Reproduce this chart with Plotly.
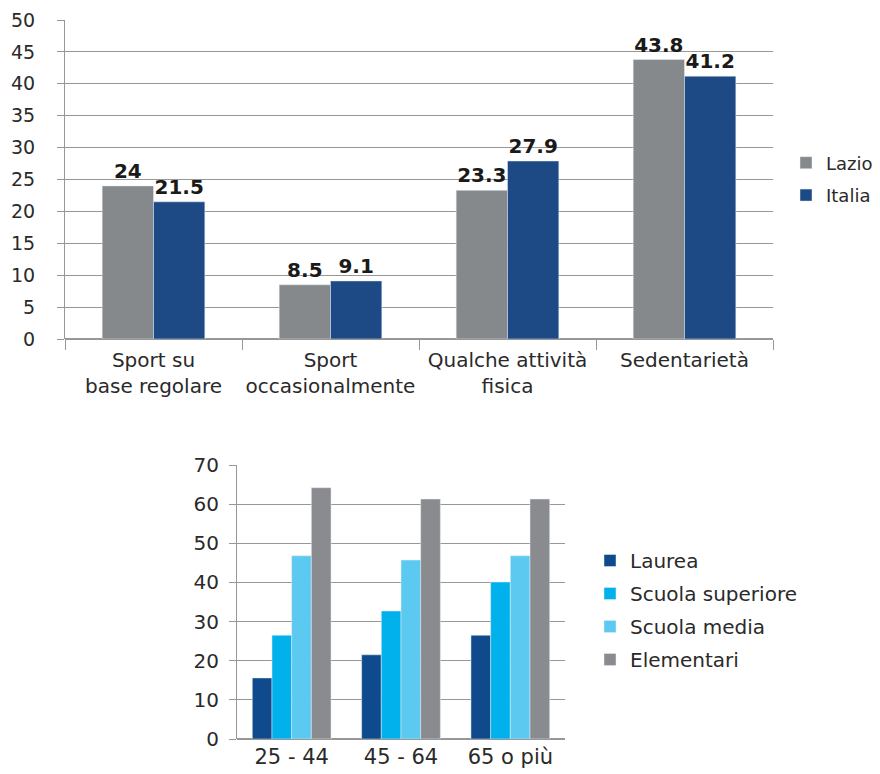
import plotly.graph_objects as go

# Top chart data
activity = ["Sport su<br>base regolare", "Sport<br>occasionalmente", "Qualche attività<br>fisica", "Sedentarietà"]
lazio = [24, 8.5, 23.3, 43.8]
italia = [21.5, 9.1, 27.9, 41.2]

# Bottom chart data
age_groups = ["25 - 44", "45 - 64", "65 o più"]
laurea = [15.6, 21.5, 26.5]
scuola_superiore = [26.5, 32.7, 40.1]
scuola_media = [46.8, 45.7, 46.8]
elementari = [64.2, 61.3, 61.3]

FONT = "DejaVu Sans"
TXT = "#2a2a2a"
GRID = "#979797"

fig = go.Figure()

label_font = dict(family=FONT, size=20, color="#1a1a1a")
fig.add_trace(go.Bar(x=activity, y=lazio, name="Lazio", marker_color="#86898c",
                     text=[f"<b>{v:g}</b>" for v in lazio], textposition="outside",
                     textfont=label_font, cliponaxis=False, xaxis="x", yaxis="y",
                     legend="legend", legendgroup="lazio"))
fig.add_trace(go.Bar(x=activity, y=italia, name="Italia", marker_color="#1d4a84",
                     text=[f"<b>{v:g}</b>" for v in italia], textposition="outside",
                     textfont=label_font, cliponaxis=False, xaxis="x", yaxis="y",
                     legend="legend", legendgroup="italia"))

for name, vals, col in [("Laurea", laurea, "#0e4a8c"),
                        ("Scuola superiore", scuola_superiore, "#00b1ec"),
                        ("Scuola media", scuola_media, "#5cc9f1"),
                        ("Elementari", elementari, "#898b8e")]:
    fig.add_trace(go.Bar(x=age_groups, y=vals, name=name, marker_color=col,
                         xaxis="x2", yaxis="y2", legend="legend2", legendgroup=name))

# page body has an 8px margin; figure is sized to fit the 880x774 window
OFF = 8
W, H = 880 - OFF, 774 - OFF
def dx(a, b):
    return [(a - OFF) / W, (b - OFF) / W]
def dy(top, bottom):
    return [1 - (bottom - OFF) / H, 1 - (top - OFF) / H]
def px(x):
    return (x - OFF) / W
def py(y):
    return 1 - (y - OFF) / H

fig.update_layout(
    width=W, height=H,
    margin=dict(l=0, r=0, t=0, b=0),
    paper_bgcolor="white", plot_bgcolor="white",
    barmode="group",
    bargap=0.42, bargroupgap=0,
    font=dict(family=FONT, size=17, color=TXT),
    xaxis=dict(domain=dx(65, 773), tickfont=dict(family=FONT, size=20, color=TXT),
               showline=False, automargin=False, tickangle=0, ticklabelstandoff=7,
               ticks="outside", tickson="boundaries", ticklen=10, tickcolor=GRID,
               showgrid=False, anchor="y"),
    yaxis=dict(domain=dy(20, 339), range=[0, 50], dtick=5,
               tickfont=dict(family=FONT, size=19, color=TXT), automargin=False,
               showgrid=True, gridcolor=GRID, gridwidth=1, ticklabelstandoff=18,
               showline=True, linecolor=GRID, ticks="outside", ticklen=7, tickcolor=GRID,
               zeroline=True, zerolinecolor=GRID, anchor="x"),
    xaxis2=dict(domain=dx(237, 565), tickfont=dict(family=FONT, size=21, color=TXT),
                automargin=False, tickangle=0, ticklabelstandoff=3,
                showgrid=False, showline=False, ticks="", anchor="y2"),
    yaxis2=dict(domain=dy(465, 739), range=[0, 70], dtick=10, automargin=False,
                tickfont=dict(family=FONT, size=20, color=TXT), ticklabelstandoff=6,
                showgrid=True, gridcolor=GRID, gridwidth=1,
                showline=True, linecolor=GRID, ticks="outside", ticklen=7, tickcolor=GRID,
                zeroline=True, zerolinecolor=GRID, anchor="x2"),
    legend=dict(x=px(786), y=py(179), xanchor="left", yanchor="middle",
                font=dict(family=FONT, size=18, color=TXT), itemwidth=30,
                tracegroupgap=6, bgcolor="rgba(0,0,0,0)"),
    legend2=dict(x=px(590), y=py(610), xanchor="left", yanchor="middle",
                 font=dict(family=FONT, size=20, color=TXT), itemwidth=30,
                 tracegroupgap=4, bgcolor="rgba(0,0,0,0)"),
)

# bottom chart: narrower group gap than the top chart
bottom = [t for t in fig.data if t.xaxis == "x2"]
for i, tr in enumerate(bottom):
    tr.width = 0.18
    tr.offset = -0.36 + i * 0.18

fig.write_html("out.html")
